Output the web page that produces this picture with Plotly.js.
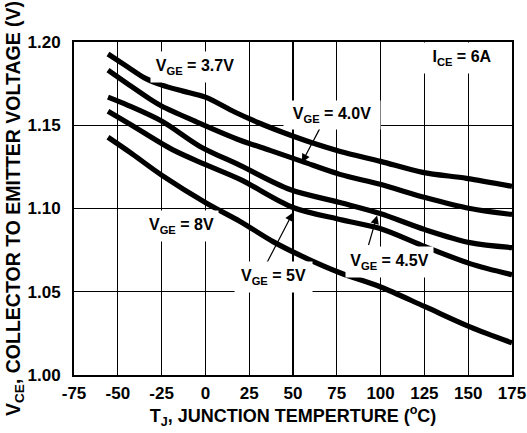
<!DOCTYPE html>
<html><head><meta charset="utf-8">
<script src="https://cdn.plot.ly/plotly-3.0.1.min.js"></script>
<style>html,body{margin:0;padding:0;background:#fff}#chart{width:527px;height:433px}</style>
</head><body><div id="chart"></div>
<script>
// Data
const seriesNames = ['V<sub>GE</sub> = 3.7V','V<sub>GE</sub> = 4.0V','V<sub>GE</sub> = 4.5V','V<sub>GE</sub> = 5V','V<sub>GE</sub> = 8V'];

const tj37 = [-55.6, -44.2, -34.5, -24.8, -12.8, 0, 17, 31, 44, 60, 77, 100, 124, 149, 175];
const vce37 = [1.1928, 1.1849, 1.1783, 1.1741, 1.1705, 1.1669, 1.1578, 1.1512, 1.1458, 1.1398, 1.1343, 1.1283, 1.1217, 1.1181, 1.1133];

const tj40 = [-55.6, -44.2, -31.6, -24.8, -5.9, 19.8, 36.9, 55.1, 76.8, 99.7, 125.4, 151, 175];
const vce40 = [1.1831, 1.1747, 1.1657, 1.1614, 1.1524, 1.1410, 1.1349, 1.1283, 1.1205, 1.1145, 1.1066, 1.1000, 1.0964];

const tj45 = [-55.6, -44.2, -24.8, -3.1, 19.8, 48.3, 76.8, 99.7, 125.4, 151, 175];
const vce45 = [1.1669, 1.1620, 1.1524, 1.1373, 1.1259, 1.1114, 1.1036, 1.0970, 1.0873, 1.0795, 1.0765];

const tj50 = [-55.6, -43, -19.1, -0.2, 19.8, 50, 76.8, 99.7, 125.4, 151, 175];
const vce50 = [1.1584, 1.1506, 1.1355, 1.1265, 1.1175, 1.1006, 1.0934, 1.0880, 1.0771, 1.0669, 1.0602];

const tj80 = [-55.6, -43, -24.8, 0.9, 19.8, 38.6, 58, 76.8, 99.7, 125.4, 151, 175];
const vce80 = [1.1428, 1.1337, 1.1199, 1.1030, 1.0922, 1.0801, 1.0699, 1.0614, 1.0530, 1.0410, 1.0289, 1.0193];

const xTickVals = [-75, -50, -25, 0, 25, 50, 75, 100, 125, 150, 175];
const xTickText = ['-75', '-50', '-25', '0', '25', '50', '75', '100', '125', '150', '175'];
const yTickVals = [1.00, 1.05, 1.10, 1.15, 1.20];
const yTickText = ['1.00', '1.05', '1.10', '1.15', '1.20'];

const FONT = 'Liberation Sans, Arial, Helvetica, sans-serif';
const xs = [tj37, tj40, tj45, tj50, tj80];
const ys = [vce37, vce40, vce45, vce50, vce80];

const traces = xs.map((x, i) => ({
  type: 'scatter', mode: 'lines', x: x, y: ys[i], name: seriesNames[i],
  line: {color: '#000', width: 5.2, shape: 'spline', smoothing: 0.9},
  showlegend: false, hoverinfo: 'skip'
}));

const lblFont = {family: FONT, size: 16, color: '#000', weight: 700};
function label(text, x, y, w, h) {
  return {text: text, x: x, y: y, xref: 'x', yref: 'y', showarrow: false,
    bgcolor: '#fff', width: w, height: h, font: lblFont, borderpad: 0};
}
function arrow(x, y, ax, ay) {
  return {text: '', x: x, y: y, xref: 'x', yref: 'y', showarrow: true,
    ax: ax, ay: ay, arrowhead: 2, arrowsize: 1.4, arrowwidth: 1.2, arrowcolor: '#000', standoff: 0};
}

const annotations = [
  arrow(55.1, 1.1277, 19, -36),
  arrow(50.0, 1.0976, -27, 52),
  arrow(98.0, 1.0958, -9, 31),
  label(seriesNames[0], -5.9, 1.1849, 88, 30),
  label(seriesNames[1], 72.3, 1.1560, 96, 28),
  label('I<sub>CE</sub> = 6A', 146.5, 1.1904, 80, 30),
  label(seriesNames[4], -13.9, 1.0892, 73, 30),
  label(seriesNames[3], 38.6, 1.0590, 77, 30),
  label(seriesNames[2], 104.8, 1.0681, 87, 30)
];

const axisCommon = {
  showgrid: true, gridcolor: '#000', gridwidth: 1.2,
  showline: true, linecolor: '#000', linewidth: 2, mirror: true,
  zeroline: false, ticks: '', fixedrange: true,
  tickfont: {family: FONT, size: 17, color: '#000', weight: 700}
};

const layout = {
  width: 527, height: 433,
  margin: {l: 74, r: 15, t: 42, b: 58},
  paper_bgcolor: '#fff', plot_bgcolor: '#fff',
  font: {family: FONT, color: '#000'},
  xaxis: Object.assign({}, axisCommon, {
    range: [-75, 175], tickmode: 'array', tickvals: xTickVals, ticktext: xTickText,
    ticklabelstandoff: 2,
    title: {text: 'T<sub>J</sub>, JUNCTION TEMPERTURE (<sup>o</sup>C)', standoff: 2,
      font: {family: FONT, size: 18, color: '#000', weight: 700}}
  }),
  yaxis: Object.assign({}, axisCommon, {
    range: [1.0, 1.2], tickmode: 'array', tickvals: yTickVals, ticktext: yTickText,
    ticklabelstandoff: 8,
    title: {text: 'V<sub>CE</sub>, COLLECTOR TO EMITTER VOLTAGE (V)', standoff: 2,
      font: {family: FONT, size: 19.5, color: '#000', weight: 700}}
  }),
  annotations: annotations
};

Plotly.newPlot('chart', traces, layout, {staticPlot: true, displayModeBar: false});
</script>
</body></html>
